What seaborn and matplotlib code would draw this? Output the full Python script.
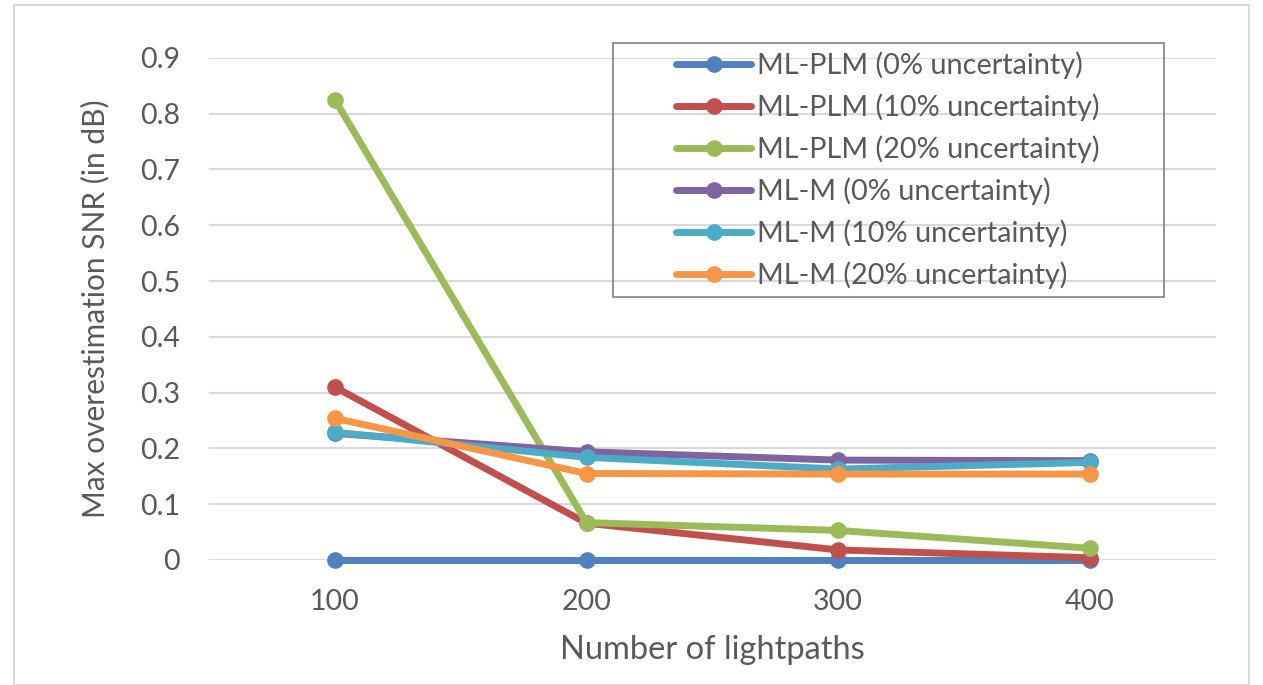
import numpy as np
import pandas as pd
import seaborn as sns
import matplotlib.pyplot as plt
from matplotlib.patches import Rectangle

# 数据
lightpaths = [100, 200, 300, 400]
series_names = ['ML-PLM (0% uncertainty)', 'ML-PLM (10% uncertainty)', 'ML-PLM (20% uncertainty)',
                'ML-M (0% uncertainty)', 'ML-M (10% uncertainty)', 'ML-M (20% uncertainty)']
plm_0 = [0.0, 0.0, 0.0, 0.0]
plm_10 = [0.31, 0.066, 0.018, 0.004]
plm_20 = [0.825, 0.067, 0.053, 0.021]
m_0 = [0.227, 0.194, 0.179, 0.178]
m_10 = [0.229, 0.184, 0.163, 0.175]
m_20 = [0.254, 0.155, 0.154, 0.154]
colors = ['#4F81BD', '#C0504D', '#9BBB59', '#8064A2', '#4BACC6', '#F79646']

rows = []
for name, vals in zip(series_names, [plm_0, plm_10, plm_20, m_0, m_10, m_20]):
    for x, v in zip(lightpaths, vals):
        rows.append({'lightpaths': x, 'snr': v, 'series': name})
df = pd.DataFrame(rows)

sns.set_style('white')
plt.rcParams['font.family'] = ['Lato', 'DejaVu Sans']
text_color = '#595959'

fig = plt.figure(figsize=(12.63, 6.85), dpi=100)
ax = fig.add_axes([0.1655, 0.1825, 0.797, 0.733])

sns.lineplot(data=df, x='lightpaths', y='snr', hue='series', hue_order=series_names,
             palette=colors, marker='o', markersize=12, markeredgewidth=0,
             linewidth=5, ax=ax, zorder=3)
# 让 y=0 的线不被裁掉
for ln in ax.lines:
    ln.set_clip_on(False)

ax.set_xlim(50, 450)
ax.set_ylim(0, 0.9)
ax.set_xticks(lightpaths)
ax.set_yticks(np.arange(0, 0.91, 0.1))
ax.set_yticklabels(['0'] + ['%.1f' % v for v in np.arange(0.1, 0.91, 0.1)])
ax.yaxis.grid(True, color='#D9D9D9', linewidth=1.5)
ax.set_axisbelow(True)
for s in ax.spines.values():
    s.set_visible(False)
ax.tick_params(axis='both', length=0, labelsize=20.5, colors=text_color)
ax.tick_params(axis='x', pad=21)
ax.tick_params(axis='y', pad=21)
ax.set_xlabel('Number of lightpaths', fontsize=23.5, color=text_color, labelpad=14)
ax.set_ylabel('Max overestimation SNR (in dB)', fontsize=21.5, color=text_color, labelpad=22)

# 图例(无边框) + 单独画边框
leg = ax.legend(loc='center left', bbox_to_anchor=(676 / 1263, 1 - 170.5 / 685),
                bbox_transform=fig.transFigure, fontsize=20.8, frameon=False,
                handlelength=2.6, labelspacing=0.5, borderpad=0, handletextpad=0.22,
                borderaxespad=0)
for t in leg.get_texts():
    t.set_color(text_color)
for h in leg.legend_handles:
    h.set_linewidth(5)
    h.set_markersize(12)
fig.patches.append(Rectangle((613 / 1263, 1 - 297 / 685), (1164 - 613) / 1263, (297 - 43) / 685,
                             transform=fig.transFigure, fill=False, edgecolor='#808080',
                             linewidth=1.2, zorder=5))

fig.patches.append(Rectangle((0.011, 0.0), 0.978, 0.992, transform=fig.transFigure,
                             fill=False, edgecolor='#D9D9D9', linewidth=1.5))

plt.savefig('out.png', dpi=100)
